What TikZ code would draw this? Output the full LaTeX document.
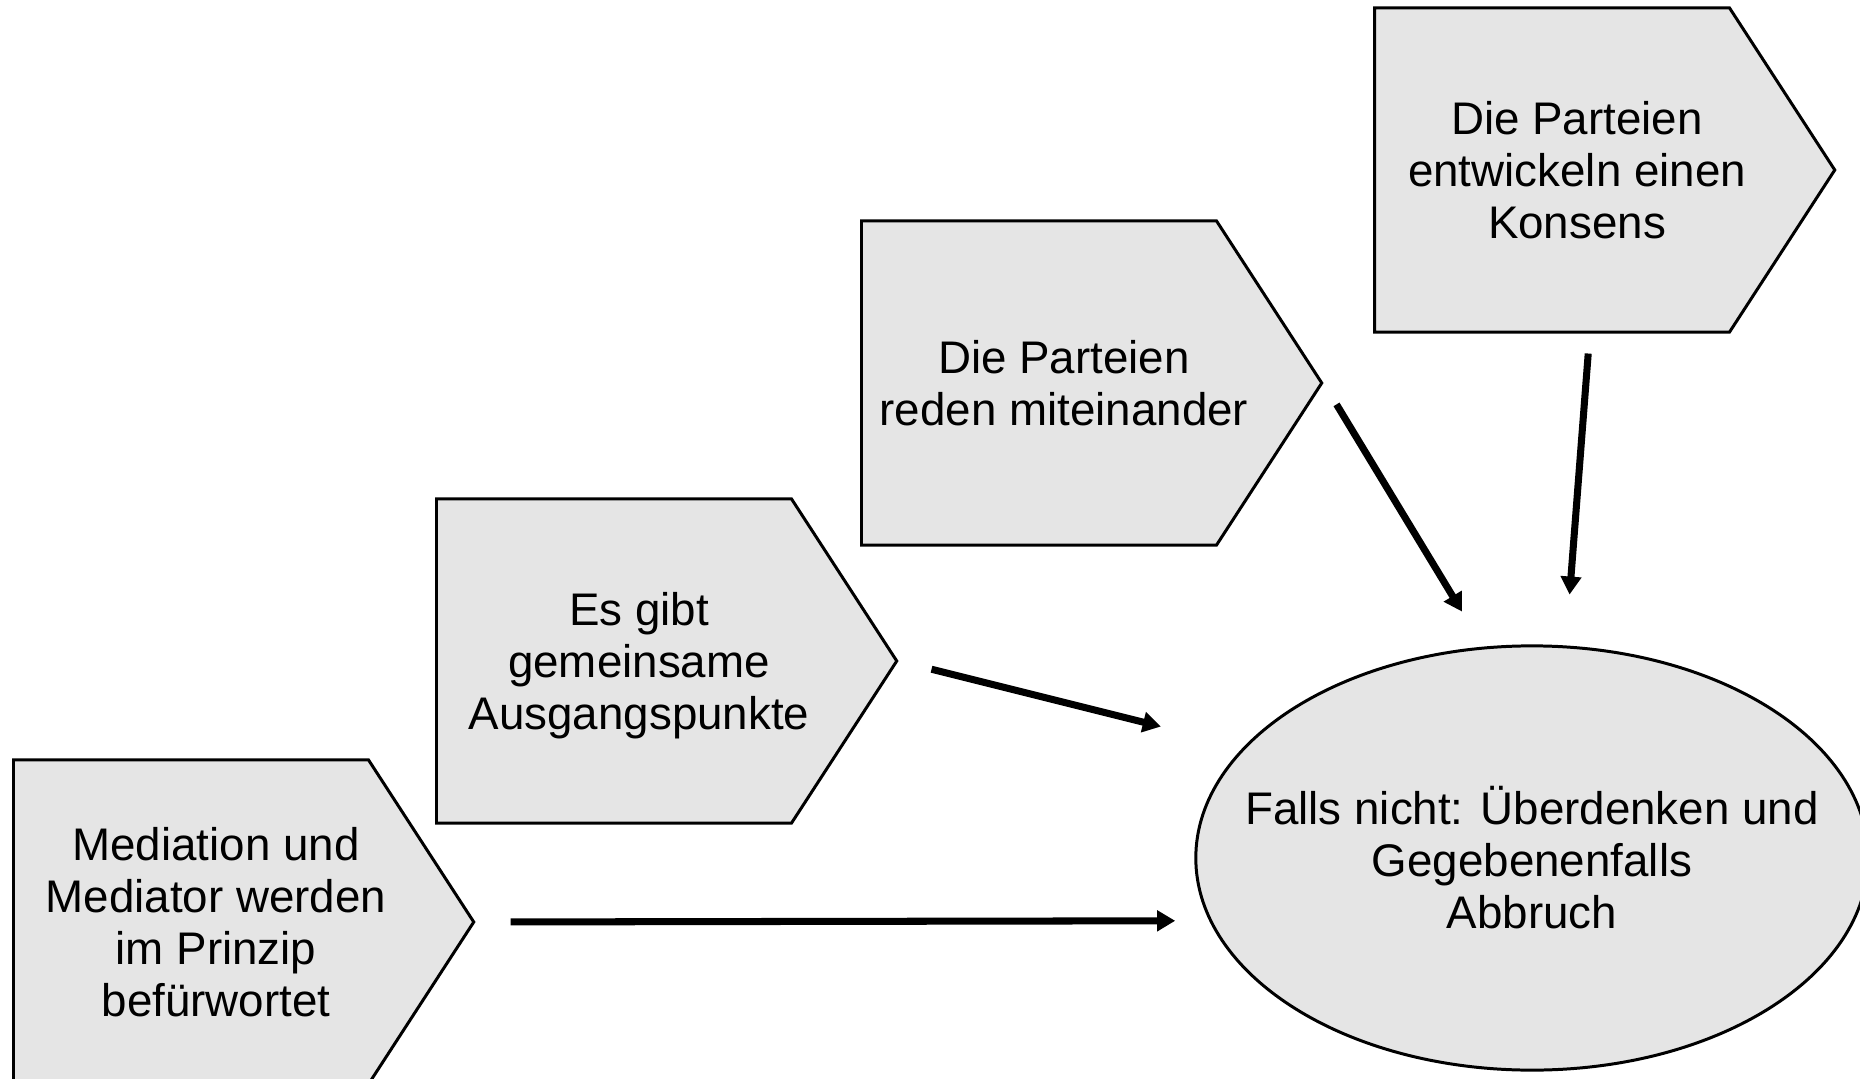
\documentclass[tikz,border=0pt]{standalone}
\usepackage{fontspec}
\setmainfont{Liberation Sans}
\usetikzlibrary{shapes.symbols,shapes.geometric,arrows.meta}

% text of a step, set a little right of and below the box centre
\newcommand{\schritt}[1]{\raisebox{0pt}[\dimexpr\height+0.12cm\relax][\depth]{%
  \begin{tabular}{@{}c@{\hspace{-0.5cm}}}#1\end{tabular}}}

\begin{document}
\begin{tikzpicture}[x=0.01cm, y=-0.01cm,
  stepbox/.style={shape=signal, signal to=east, signal pointer angle=114,
    draw, line width=0.85pt, fill=gray!20, anchor=west,
    minimum width=4.6cm, minimum height=3.24cm, inner sep=0pt,
    font=\fontsize{13pt}{14.8pt}\selectfont},
  goal/.style={ellipse, draw, line width=0.85pt, fill=gray!20,
    minimum width=6.72cm, minimum height=4.24cm, inner xsep=-0.6cm, inner ysep=0pt,
    align=center, font=\fontsize{13pt}{14.8pt}\selectfont},
  flow/.style={line width=2pt, -{Triangle[length=0.18cm,width=0.2cm]}}]
\useasboundingbox (0,0) rectangle (1860,1079);

\node[stepbox] (s1) at (12,922) {\schritt{Mediation und\\Mediator werden\\im Prinzip\\befürwortet}};
\node[stepbox] (s2) at (435,661) {\schritt{Es gibt\\gemeinsame\\Ausgangspunkte}};
\node[stepbox] (s3) at (860,383) {\schritt{Die Parteien\\reden miteinander}};
\node[stepbox] (s4) at (1373,170) {\schritt{Die Parteien\\entwickeln einen\\Konsens}};

\node[goal] (ende) at (1532,858) {Falls nicht: Überdenken und\\Gegebenenfalls\\Abbruch};

\draw[flow, shorten <=0.35cm, shorten >=0.34cm] (s1.east) -- (ende.191.5);
\draw[flow, shorten <=0.34cm, shorten >=0.85cm] (s2.east) -- (ende.159.5);
\draw[flow, shorten <=0.25cm, shorten >=0.41cm] (s3.east) -- (ende.103);
\draw[flow, shorten <=0.2cm, shorten >=0.51cm] (s4.-77) -- (ende.81.1);
\end{tikzpicture}
\end{document}
